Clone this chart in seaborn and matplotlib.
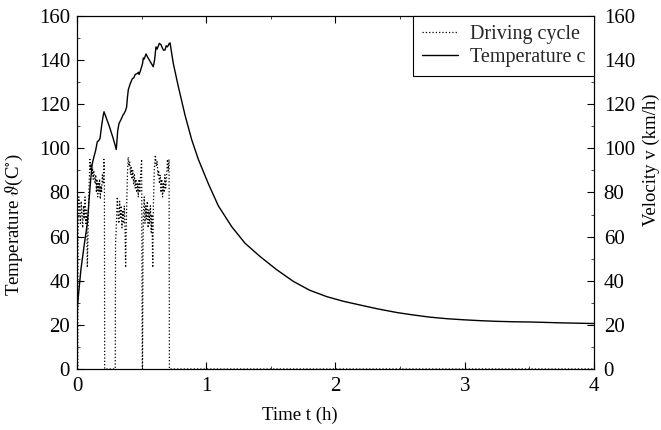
import numpy as np
import pandas as pd
import matplotlib
matplotlib.use("Agg")
import matplotlib.pyplot as plt
import seaborn as sns

# ---- data ----
temp_t = [0.0, 0.004, 0.03, 0.06, 0.08, 0.095, 0.106, 0.118, 0.13, 0.144, 0.157, 0.168, 0.178,
          0.19, 0.2, 0.209, 0.25, 0.28, 0.304, 0.315, 0.325, 0.34, 0.355, 0.364, 0.375, 0.384,
          0.39, 0.397, 0.41, 0.428, 0.44, 0.45, 0.466, 0.475, 0.48, 0.492, 0.5, 0.507, 0.513,
          0.52, 0.534, 0.545, 0.555, 0.565, 0.575, 0.59, 0.6, 0.611, 0.62, 0.637, 0.65, 0.66,
          0.67, 0.681, 0.69, 0.7, 0.714, 0.72, 0.745, 0.784, 0.836, 0.887, 0.939, 1.016, 1.093,
          1.197, 1.3, 1.416, 1.545, 1.674, 1.8, 1.932, 2.06, 2.19, 2.33, 2.474, 2.6, 2.73, 2.86,
          2.99, 3.12, 3.247, 3.38, 3.505, 3.75, 4.0]
temp_v = [20, 29, 45, 58, 66, 78, 86, 93, 96, 99, 103, 103.5, 104.5,
          110, 114, 116.6, 110, 104.5, 99.5, 108, 111.3, 113, 115, 115.8, 117, 118.8,
          123, 126.6, 129, 131.6, 132, 133.5, 133.9, 134.5, 133.5, 135.4, 137, 138.4, 141,
          140.5, 142.8, 141.5, 140.5, 139.5, 138.5, 137, 140, 146, 145, 147.6, 147, 145.5,
          144.5, 144.6, 146.5, 146, 147.6, 147.8, 138.5, 128, 115, 104, 95, 84, 74,
          64.5, 57, 51, 45, 39.7, 35.7, 32.8, 30.7, 29, 27.2, 25.6, 24.5, 23.5, 22.8,
          22.3, 21.9, 21.6, 21.4, 21.3, 20.9, 20.6]

# driving cycle (time h, velocity km/h), three driving phases then standstill
cycle_seg1 = [(0.0, 0), (0.006, 0), (0.008, 62), (0.014, 78), (0.02, 72), (0.026, 66),
              (0.032, 76), (0.038, 70), (0.044, 64), (0.05, 74), (0.056, 68), (0.062, 78),
              (0.068, 66), (0.074, 72), (0.08, 46), (0.086, 64), (0.092, 80), (0.1, 95),
              (0.105, 90), (0.11, 93), (0.115, 88), (0.12, 91), (0.125, 86), (0.13, 90),
              (0.135, 87), (0.14, 84), (0.145, 88), (0.15, 80), (0.155, 86), (0.16, 78),
              (0.165, 84), (0.17, 80), (0.175, 86), (0.18, 77), (0.185, 83), (0.19, 80),
              (0.196, 88), (0.202, 84), (0.208, 95), (0.212, 92), (0.214, 0)]
cycle_seg2 = [(0.296, 0), (0.298, 56), (0.306, 68), (0.312, 78), (0.318, 70), (0.324, 66),
              (0.33, 76), (0.336, 68), (0.342, 74), (0.348, 64), (0.354, 72), (0.36, 66),
              (0.366, 74), (0.372, 62), (0.376, 46), (0.383, 70), (0.39, 88), (0.396, 96),
              (0.402, 92), (0.408, 94), (0.414, 88), (0.42, 92), (0.426, 86), (0.432, 90),
              (0.438, 84), (0.444, 88), (0.45, 82), (0.456, 86), (0.462, 80), (0.468, 84),
              (0.474, 78), (0.48, 86), (0.486, 80), (0.492, 88), (0.5, 95), (0.505, 0)]
cycle_seg3 = [(0.507, 0), (0.511, 56), (0.514, 70), (0.52, 78), (0.526, 66), (0.532, 74),
              (0.538, 68), (0.544, 76), (0.55, 64), (0.556, 72), (0.562, 66), (0.568, 74),
              (0.574, 62), (0.58, 70), (0.586, 46), (0.591, 74), (0.598, 90), (0.606, 97),
              (0.613, 92), (0.62, 94), (0.626, 88), (0.632, 90), (0.638, 84), (0.644, 88),
              (0.65, 80), (0.656, 86), (0.662, 78), (0.668, 84), (0.674, 80), (0.68, 88),
              (0.686, 82), (0.692, 86), (0.7, 95), (0.706, 90), (0.712, 95), (0.715, 0)]
cycle_rest = [(1.0, 0), (2.0, 0), (3.0, 0), (4.0, 0)]

x_ticks = [0, 1, 2, 3, 4]
y_ticks = [0, 20, 40, 60, 80, 100, 120, 140, 160]

temp_df = pd.DataFrame({"t": temp_t, "T": temp_v})
cycle_df = pd.DataFrame(cycle_seg1 + cycle_seg2 + cycle_seg3 + cycle_rest, columns=["t", "v"])

sns.set_theme(style="white")
plt.rcParams["font.family"] = ["Liberation Serif", "DejaVu Serif"]
plt.rcParams["mathtext.fontset"] = "stix"

fig = plt.figure(figsize=(6.61, 4.30), dpi=100)
ax = fig.add_axes([0.1165, 0.1419, 0.7821, 0.8209])
ax2 = ax.twinx()

sns.lineplot(data=cycle_df, x="t", y="v", ax=ax2, color="black", linestyle=":",
             linewidth=0.9, label="Driving cycle", legend=False, sort=False)
sns.lineplot(data=temp_df, x="t", y="T", ax=ax, color="black", linestyle="-",
             linewidth=1.0, label="Temperature c", legend=False, sort=False)

for a in (ax, ax2):
    a.set_xlim(0, 4)
    a.set_ylim(0, 160)
    a.set_yticks(y_ticks)
    for s in a.spines.values():
        s.set_color("black")
        s.set_linewidth(0.8)

ax.set_xticks(x_ticks)
ax.set_xticks(np.arange(0, 4.01, 0.5), minor=True)
ax.set_yticks(np.arange(0, 161, 10), minor=True)
ax2.set_yticks(np.arange(0, 161, 10), minor=True)

ax.tick_params(axis="both", which="major", direction="in", length=5, width=0.8,
               labelsize=15, colors="black", top=True, bottom=True, left=True, right=False)
ax.tick_params(axis="x", which="major", pad=6)
ax.tick_params(axis="y", which="major", pad=5)
ax.tick_params(axis="both", which="minor", direction="in", length=2.5, width=0.6,
               top=True, bottom=True, left=True, right=False)
ax2.tick_params(axis="y", which="major", direction="in", length=5, width=0.8,
                labelsize=15, colors="black", pad=7)
ax2.tick_params(axis="y", which="minor", direction="in", length=2.5, width=0.6)

ax.set_xlabel("Time t (h)", fontsize=13.5, color="black")
ax.set_ylabel(r"Temperature $\vartheta$(C$^{\circ}$)", fontsize=13.5, color="black")
ax2.set_ylabel("Velocity v (km/h)", fontsize=13.5, color="black")
ax.xaxis.set_label_coords(0.431, -0.106)
ax.yaxis.set_label_coords(-0.101, 0.408)
ax2.yaxis.set_label_coords(1.094, 0.592)

h1, l1 = ax2.get_legend_handles_labels()
h2, l2 = ax.get_legend_handles_labels()
leg = ax2.legend(h1 + h2, l1 + l2, loc="upper right", fontsize=14.5, frameon=True,
                 fancybox=False, edgecolor="black", framealpha=1, borderpad=0.45,
                 handlelength=1.8, handletextpad=0.55, borderaxespad=0, labelspacing=0.2)
leg.get_frame().set_linewidth(0.8)

fig.savefig("out.png", dpi=100)
